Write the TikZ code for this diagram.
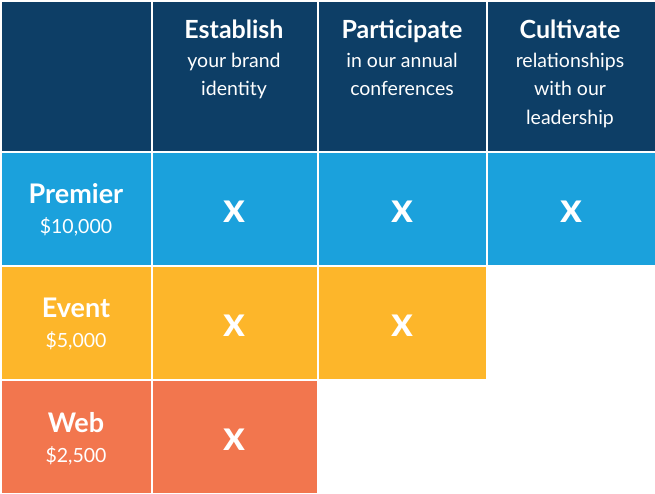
\documentclass[tikz,border=0pt]{standalone}
\usepackage{fontspec}
\setmainfont{Lato}
\definecolor{navy}{HTML}{0D3E66}
\definecolor{blu}{HTML}{1BA1DC}
\definecolor{yel}{HTML}{FDB62A}
\definecolor{ora}{HTML}{F2764E}
\begin{document}
\begin{tikzpicture}[x=1pt,y=-1pt,
  cell/.style={draw=white,line width=1.5pt,anchor=north west,inner sep=0pt,text=white,align=center},
  hd/.style={text=white,align=center,anchor=north,inner sep=0pt,font=\fontsize{19.5}{28.5}\selectfont},
  lb/.style={text=white,align=center,inner sep=0pt,font=\fontsize{19.5}{30}\selectfont},
  xx/.style={font=\fontsize{42}{42}\selectfont\bfseries}]
\useasboundingbox (0,0) rectangle (655,493);
\node[cell,fill=navy,minimum width=151pt,minimum height=151pt] (h0) at (0,0) {};
\node[cell,fill=navy,minimum width=166pt,minimum height=151pt] (h1) at (151,0) {};
\node[cell,fill=navy,minimum width=169pt,minimum height=151pt] (h2) at (317,0) {};
\node[cell,fill=navy,minimum width=169pt,minimum height=151pt] (h3) at (486,0) {};
\node[hd] (t1) at (234,20) {{\fontsize{25}{28}\selectfont\bfseries Establish}\\your brand\\identity};
\node[hd] (t2) at (402,20) {{\fontsize{25}{28}\selectfont\bfseries Participate}\\in our annual\\conferences};
\node[hd] (t3) at (570,20) {{\fontsize{25}{28}\selectfont\bfseries Cultivate}\\relationships\\with our\\leadership};
\foreach \c/\y/\n in {blu/151/1,yel/265/2,ora/379/3}{
  \node[cell,fill=\c,minimum width=151pt,minimum height=114pt] (r\n) at (0,\y) {};}
\foreach \x/\w/\n in {151/166/a,317/169/b,486/169/c}
  \node[cell,fill=blu,minimum width=\w pt,minimum height=114pt] (p\n) at (\x,151) {};
\foreach \x/\w/\n in {151/166/a,317/169/b}
  \node[cell,fill=yel,minimum width=\w pt,minimum height=114pt] (e\n) at (\x,265) {};
\node[cell,fill=ora,minimum width=166pt,minimum height=114pt] (wa) at (151,379) {};
\node[lb] (l1) at (76,210) {{\fontsize{27}{28}\selectfont\bfseries Premier}\\\$10,000};
\node[lb] (l2) at (76,324) {{\fontsize{27}{28}\selectfont\bfseries Event}\\\$5,000};
\node[lb] (l3) at (76,439) {{\fontsize{27}{28}\selectfont\bfseries Web}\\\$2,500};
\foreach \n in {pa,pb,pc,ea,eb,wa} \node[xx,text=white] at ([yshift=-3pt]\n.center) {x};
\end{tikzpicture}
\end{document}
